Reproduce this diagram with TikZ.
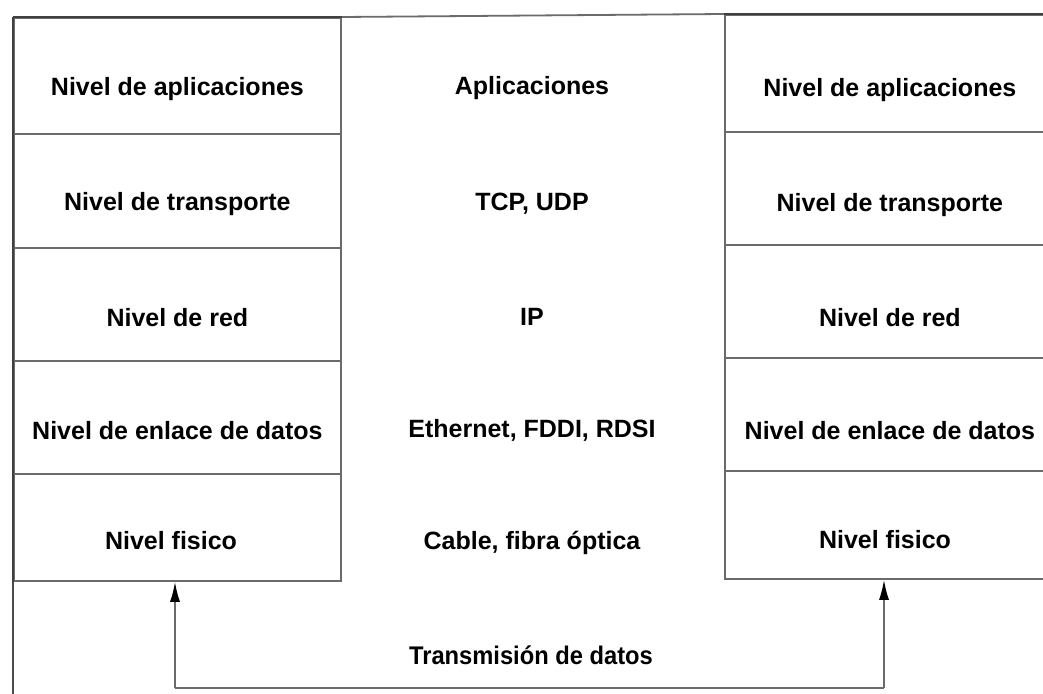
\documentclass[tikz,border=0pt]{standalone}
\usepackage{fontspec}
\setmainfont{Liberation Sans}
\usetikzlibrary{arrows.meta}
\begin{document}
\begin{tikzpicture}[x=1pt,y=-1pt,
  frame/.style={draw=black!58,line width=1.8pt},
  cell/.style={frame,minimum width=#1,inner sep=0pt,anchor=north west},
  lbl/.style={font=\fontsize{25}{28}\selectfont\bfseries,inner sep=0pt},
  arr/.style={draw=black!58,line width=1.6pt,-{Latex[length=20pt,width=10pt,fill=black,color=black]}}]
\useasboundingbox (0,0) rectangle (1043,693);
\fill[white] (0,0) rectangle (1043,693);

% left stack
\node[cell=327pt,minimum height=116pt] (l1) at (13,17) {};
\node[cell=327pt,minimum height=114pt] (l2) at (13,133) {};
\node[cell=327pt,minimum height=113pt] (l3) at (13,247) {};
\node[cell=327pt,minimum height=113pt] (l4) at (13,360) {};
\node[cell=327pt,minimum height=107pt] (l5) at (13,473) {};
\draw[draw=black!75,line width=2.6pt] (l1.north west) -- (l5.south west);
\draw[draw=black!75,line width=2.2pt] (l1.north west) -- (l1.north east);

% right stack
\node[cell=330pt,minimum height=117pt] (r1) at (724,14) {};
\node[cell=330pt,minimum height=113pt] (r2) at (724,131) {};
\node[cell=330pt,minimum height=113pt] (r3) at (724,244) {};
\node[cell=330pt,minimum height=113pt] (r4) at (724,357) {};
\node[cell=330pt,minimum height=108pt] (r5) at (724,470) {};
\draw[draw=black!75,line width=2.2pt] (r1.north west) -- (r1.north east);

% outer outline
\draw[frame] (l1.north east) -- (r1.north west);
\draw[frame,draw=black!70] (l5.south west) -- (13,700);

% layer names
\foreach \c/\t in {l1/Nivel de aplicaciones,l2/Nivel de transporte,l3/Nivel de red,
                   l4/Nivel de enlace de datos}
  \node[lbl] (t\c) at ([yshift=-13.5pt]\c.center) {\t};
\foreach \c/\t in {r1/Nivel de aplicaciones,r2/Nivel de transporte,
                   r3/Nivel de red,r4/Nivel de enlace de datos}
  \node[lbl] (t\c) at ([yshift=-16.5pt]\c.center) {\t};
\node[lbl] (tl5) at (171,541) {Nivel fisico};
\node[lbl] (tr5) at (885,540) {Nivel fisico};

% protocols in the middle
\node[lbl] (m1) at (532,88) {Aplicaciones};
\node[lbl] (m2) at (532,204) {TCP, UDP};
\node[lbl] (m3) at (532,317) {IP};
\node[lbl] (m4) at (532,430) {Ethernet, FDDI, RDSI};
\node[lbl] (m5) at (532,543) {Cable, fibra óptica};

% data transmission path
\coordinate (b1) at (175,688);
\coordinate (b2) at (884,688);
\draw[frame,line width=1.6pt] (b1) -- (b2);
\draw[arr] (b1) -- (b1 |- l5.south);
\draw[arr] (b2) -- (b2 |- r5.south);
\node[lbl] (tx) at (531,655) {\scalebox{0.93}[1]{\fontsize{25.5}{28}\selectfont\bfseries Transmisión de datos}};
\end{tikzpicture}
\end{document}
